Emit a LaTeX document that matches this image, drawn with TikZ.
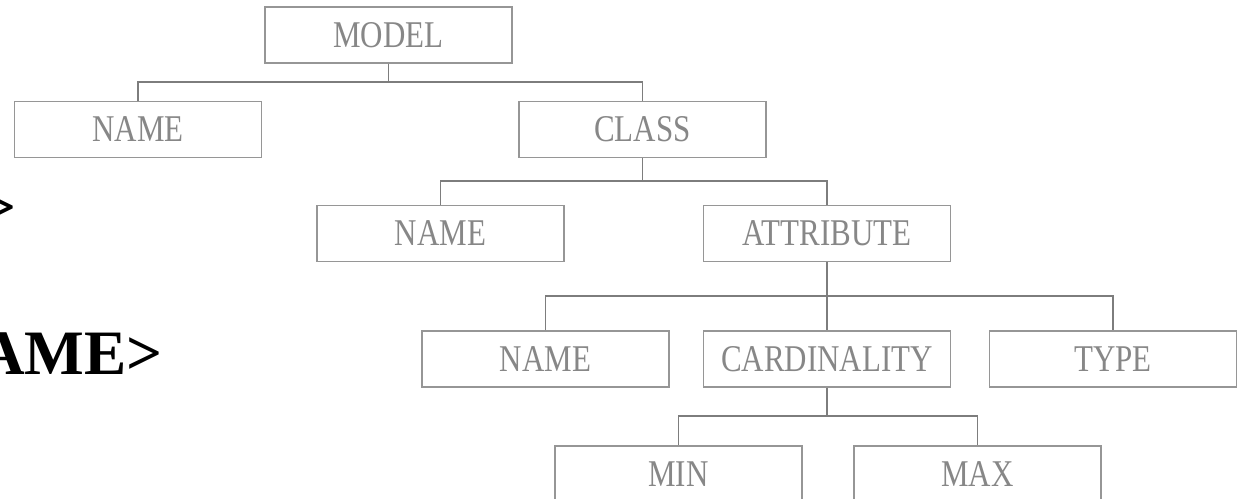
\documentclass[tikz,border=0pt]{standalone}
\usepackage{fontspec}
\setmainfont{Liberation Serif}
\newfontfamily\boxfont[FakeStretch=0.82]{Liberation Serif}
\usetikzlibrary{positioning}
\definecolor{boxgray}{RGB}{150,150,150}
\definecolor{textgray}{RGB}{135,135,135}
\definecolor{linkgray}{RGB}{125,125,125}
\tikzset{
  treebox/.style={rectangle, draw=boxgray, line width=0.8pt,
                  minimum width=4.94cm, minimum height=1.12cm, inner sep=0pt,
                  text=textgray, font=\boxfont\fontsize{21.5}{24}\selectfont},
  link/.style={draw=linkgray, line width=0.8pt},
  bigtext/.style={font=\bfseries\fontsize{36}{40}\selectfont, inner sep=0pt},
}

\begin{document}
\begin{tikzpicture}[x=0.02cm, y=-0.02cm]
  \path[use as bounding box, fill=white] (0,0) rectangle (1241,499);

  % cut-off text on the left
  \node[bigtext, anchor=base east] (tailA) at (17,229) {>};
  \node[bigtext, anchor=base east] (tailB) at (163,375) {AME>};

  % tree
  \node[treebox] (model) at (388.5,35) {MODEL};

  \node[treebox] (mname) at (138,129.5) {NAME};
  \node[treebox] (class) at (642.5,129.5) {CLASS};

  \node[treebox] (cname) at (440.5,233.5) {NAME};
  \node[treebox] (attr) at (827,233.5) {ATTRIBUTE};

  \node[treebox] (aname) at (545.5,359) {NAME};
  \node[treebox] (card) at (827,359) {CARDINALITY};
  \node[treebox] (type) at (1113,359) {TYPE};

  \node[treebox] (min) at (678.5,474) {MIN};
  \node[treebox] (max) at (977.5,474) {MAX};

  % bus lines
  \coordinate (bus0) at (388.5,82);
  \coordinate (bus1) at (642.5,181);
  \coordinate (bus2) at (827,296);
  \coordinate (bus3) at (827,416);

  \draw[link] (model.south) -- (bus0);
  \draw[link] (mname.north) |- (bus0) -| (class.north);

  \draw[link] (class.south) -- (bus1);
  \draw[link] (cname.north) |- (bus1) -| (attr.north);

  \draw[link] (attr.south) -- (card.north);
  \draw[link] (aname.north) |- (bus2) -| (type.north);

  \draw[link] (card.south) -- (bus3);
  \draw[link] (min.north) |- (bus3) -| (max.north);

\end{tikzpicture}
\end{document}
